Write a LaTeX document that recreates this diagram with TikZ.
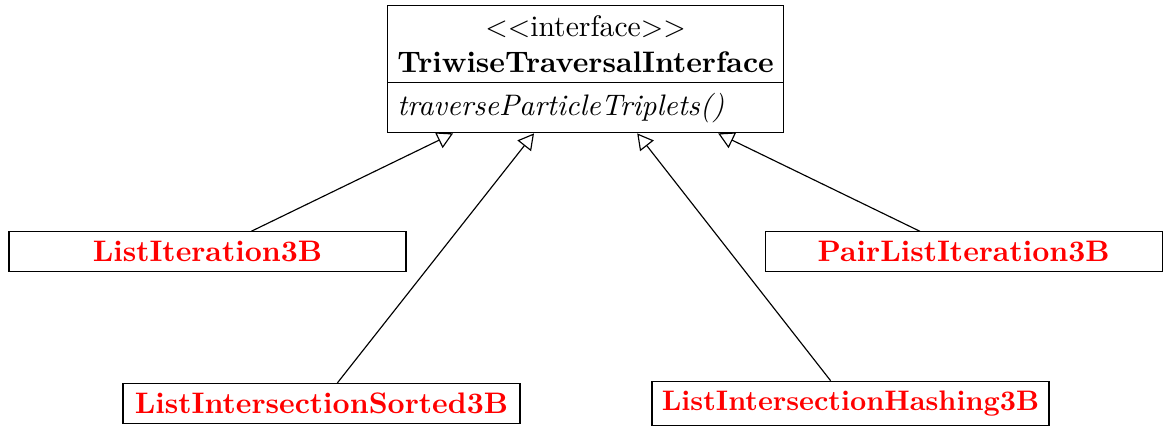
\documentclass[tikz,border=0pt]{standalone}
\usepackage{tikz}
\usetikzlibrary{shapes.multipart, arrows.meta, calc}

\begin{document}
\begin{tikzpicture}[
  font=\fontsize{10.3}{12.4}\selectfont,
  cls/.style={draw, minimum width=4.84cm, inner sep=3.33pt, text=red, font=\fontsize{10.3}{12.4}\selectfont\bfseries},
  impl/.style={-{Triangle[open, length=5.5pt, width=6pt]}}
]
\useasboundingbox (0,0) rectangle (14.18,-5.24);
% interface on top
\node[draw, rectangle split, rectangle split parts=2, align=center,
rectangle split part align={center, left}, anchor=north] (iface) at (7.14,-0.06) {
$<<$interface$>>$\\
\textbf{TriwiseTraversalInterface}
\nodepart{two}\textit{traverseParticleTriplets()}
};

% implementations
\node[cls] (li) at (2.53,-3.07) {ListIteration3B};
\node[cls] (pli) at (11.75,-3.07) {PairListIteration3B};
\node[cls] (lis) at (3.92,-4.92) {ListIntersectionSorted3B};
\node[cls, font=\fontsize{9.8}{11.8}\selectfont\bfseries] (lih) at (10.37,-4.92) {ListIntersectionHashing3B};

\draw[impl] ($(li.north west)!0.61!(li.north east)$)
  -- ($(iface.south west)!0.166!(iface.south east)$);
\draw[impl] ($(lis.north west)!0.54!(lis.north east)$)
  -- ($(iface.south west)!0.37!(iface.south east)$);
\draw[impl] ($(lih.north west)!0.45!(lih.north east)$)
  -- ($(iface.south west)!0.63!(iface.south east)$);
\draw[impl] ($(pli.north west)!0.39!(pli.north east)$)
  -- ($(iface.south west)!0.834!(iface.south east)$);
\end{tikzpicture}
\end{document}
